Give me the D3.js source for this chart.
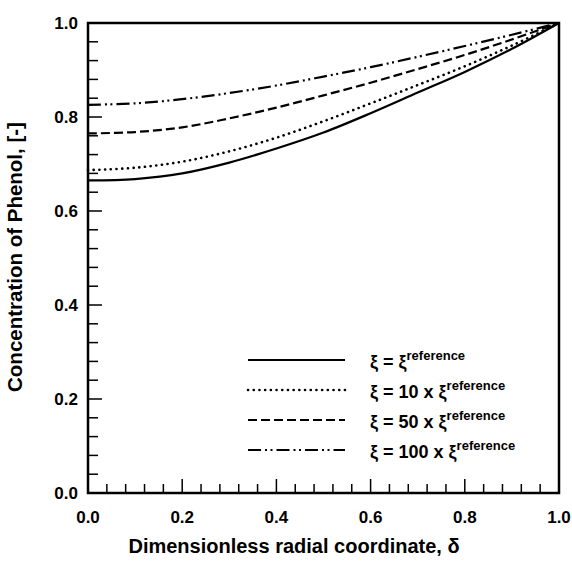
<!DOCTYPE html>
<html>
<head>
<meta charset="utf-8">
<script src="https://cdn.jsdelivr.net/npm/d3@7"></script>
<style>
  body { margin: 0; background: #fff; }
  text { font-family: "Liberation Sans", Arial, sans-serif; font-weight: bold; fill: #000; }
</style>
</head>
<body>
<script>
// radial coordinate values
var delta = [0, 0.1, 0.2, 0.3, 0.4, 0.5, 0.6, 0.7, 0.8, 0.9, 1.0];

// concentration for each xi setting
var cRef   = [0.665, 0.668, 0.680, 0.703, 0.733, 0.767, 0.808, 0.852, 0.896, 0.945, 1.0];
var c10x   = [0.687, 0.692, 0.705, 0.727, 0.756, 0.791, 0.829, 0.868, 0.908, 0.952, 1.0];
var c50x   = [0.765, 0.768, 0.778, 0.797, 0.820, 0.846, 0.873, 0.902, 0.932, 0.965, 1.0];
var c100x  = [0.826, 0.829, 0.838, 0.851, 0.867, 0.886, 0.906, 0.928, 0.951, 0.975, 1.0];

var seriesPrefix = ["\u03BE = \u03BE", "\u03BE = 10 x \u03BE", "\u03BE = 50 x \u03BE", "\u03BE = 100 x \u03BE"];
var seriesDash = ["none", "0.1 5.6", "9 4", "13 4 2 3.5 2 4"];
var tickLabels = ["0.0", "0.2", "0.4", "0.6", "0.8", "1.0"];

var margin = {top: 23, right: 13, bottom: 74, left: 88},
    width = 572 - margin.left - margin.right,
    height = 567 - margin.top - margin.bottom;

var x = d3.scaleLinear().domain([0, 1]).range([0, width]);
var y = d3.scaleLinear().domain([0, 1]).range([height, 0]);

var svg = d3.select("body").append("svg")
    .attr("width", 572)
    .attr("height", 567)
  .append("g")
    .attr("transform", "translate(" + margin.left + "," + margin.top + ")");

// minor ticks (inside)
var minor = d3.range(0, 1.0001, 0.04);
svg.selectAll(".xtick")
    .data(minor)
  .enter().append("line")
    .attr("x1", function(d) { return x(d); })
    .attr("x2", function(d) { return x(d); })
    .attr("y1", height)
    .attr("y2", function(d, i) { return height - (i % 5 == 0 ? 14 : 9); })
    .attr("stroke", "#000")
    .attr("stroke-width", 1.5);

svg.selectAll(".ytick")
    .data(minor)
  .enter().append("line")
    .attr("y1", function(d) { return y(d); })
    .attr("y2", function(d) { return y(d); })
    .attr("x1", 0)
    .attr("x2", function(d, i) { return (i % 5 == 0 ? 14 : 10); })
    .attr("stroke", "#000")
    .attr("stroke-width", 1.5);

// tick labels
svg.selectAll(".xlab")
    .data(tickLabels)
  .enter().append("text")
    .attr("x", function(d) { return x(+d); })
    .attr("y", height + 30)
    .attr("text-anchor", "middle")
    .style("font-size", "17px")
    .text(function(d) { return d; });

svg.selectAll(".ylab")
    .data(tickLabels)
  .enter().append("text")
    .attr("x", -10)
    .attr("y", function(d) { return y(+d); })
    .attr("dy", "0.36em")
    .attr("text-anchor", "end")
    .style("font-size", "17px")
    .text(function(d) { return d; });

// frame
svg.append("rect")
    .attr("x", 0)
    .attr("y", 0)
    .attr("width", width)
    .attr("height", height)
    .attr("fill", "none")
    .attr("stroke", "#000")
    .attr("stroke-width", 2.5);

// curves
var data = [cRef, c10x, c50x, c100x];
var line = d3.line()
    .x(function(d, i) { return x(delta[i]); })
    .y(function(d) { return y(d); })
    .curve(d3.curveCatmullRom);

svg.selectAll(".curve")
    .data(data)
  .enter().append("path")
    .attr("d", line)
    .attr("fill", "none")
    .attr("stroke", "#000")
    .attr("stroke-width", function(d, i) { return i == 1 ? 2.6 : 2.2; })
    .attr("stroke-linecap", function(d, i) { return i == 1 ? "round" : "butt"; })
    .attr("stroke-dasharray", function(d, i) { return seriesDash[i]; });

// legend
var legend = svg.selectAll(".legend")
    .data(seriesPrefix)
  .enter().append("g")
    .attr("transform", function(d, i) { return "translate(0," + (337 + i * 30) + ")"; });

legend.append("line")
    .attr("x1", 160)
    .attr("x2", 257)
    .attr("y1", 0)
    .attr("y2", 0)
    .attr("stroke", "#000")
    .attr("stroke-width", function(d, i) { return i == 1 ? 2.6 : 2.2; })
    .attr("stroke-linecap", function(d, i) { return i == 1 ? "round" : "butt"; })
    .attr("stroke-dasharray", function(d, i) { return seriesDash[i]; });

var lt = legend.append("text")
    .attr("x", 282)
    .attr("y", 8)
    .style("font-size", "18px");
lt.append("tspan").text(function(d) { return d; });
lt.append("tspan")
    .attr("dy", -8)
    .style("font-size", "13px")
    .text("reference");

// axis titles
svg.append("text")
    .attr("x", 294 - margin.left)
    .attr("y", height + 60)
    .attr("text-anchor", "middle")
    .style("font-size", "20px")
    .text("Dimensionless radial coordinate, \u03B4");

svg.append("text")
    .attr("transform", "translate(-66," + (257 - margin.top) + ") rotate(-90)")
    .attr("text-anchor", "middle")
    .style("font-size", "20.5px")
    .text("Concentration of Phenol, [-]");
</script>
</body>
</html>
